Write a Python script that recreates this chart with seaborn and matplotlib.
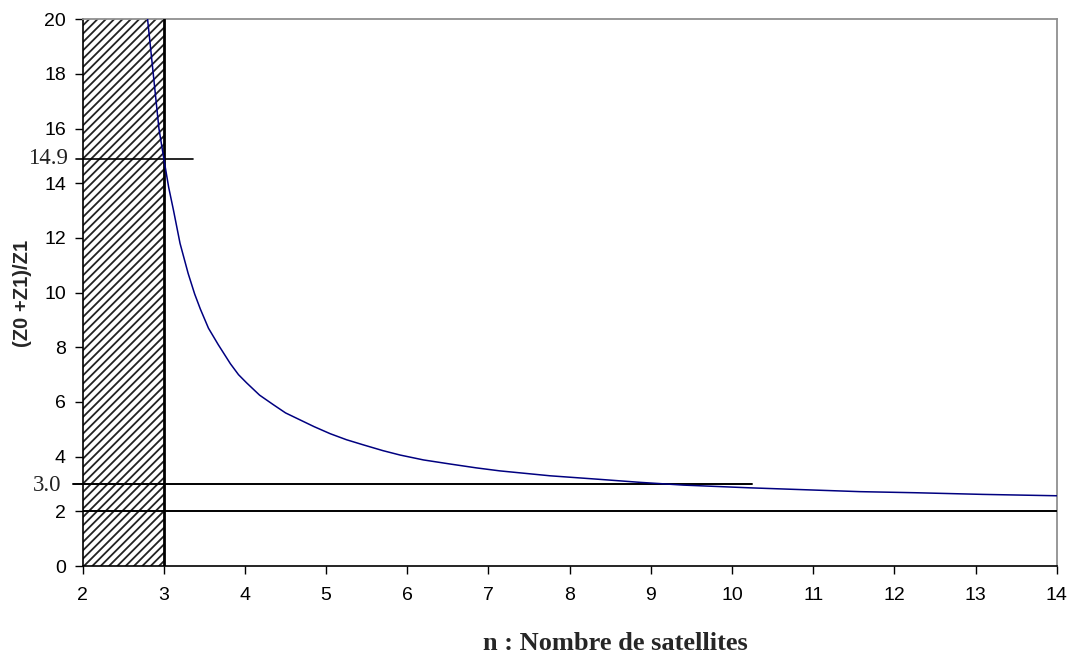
import matplotlib
matplotlib.use("Agg")
import matplotlib.pyplot as plt
import seaborn as sns
import pandas as pd

# ---- data ----
n_values = [2.80, 2.87, 2.94, 3.00, 3.06, 3.12, 3.20, 3.30, 3.38, 3.45, 3.55, 3.67,
            3.82, 3.92, 4.02, 4.18, 4.35, 4.50, 4.64, 4.85, 5.05, 5.25, 5.46, 5.70,
            5.91, 6.20, 6.53, 6.85, 7.14, 7.76, 8.37, 8.87, 9.40, 10.22, 11.58,
            12.27, 13.09, 14.00]
ratio_values = [20.0, 18.0, 16.0, 14.9, 13.85, 13.0, 11.8, 10.7, 9.95, 9.4, 8.7, 8.1,
                7.4, 7.0, 6.7, 6.25, 5.9, 5.6, 5.4, 5.1, 4.84, 4.62, 4.43, 4.22,
                4.06, 3.88, 3.73, 3.59, 3.48, 3.30, 3.17, 3.06, 2.96, 2.86, 2.72,
                2.68, 2.62, 2.57]
x_ticks = [2, 3, 4, 5, 6, 7, 8, 9, 10, 11, 12, 13, 14]
y_ticks = [0, 2, 4, 6, 8, 10, 12, 14, 16, 18, 20]
forbidden_zone = [2, 3]          # hatched region of n
level_high = 14.9               # value at n = 3
level_mid = 3.0                 # value reached near n = 9
level_asym = 2.0                # asymptote
level_high_span = [1.92, 3.36]
level_mid_span = [1.885, 10.25]
level_asym_span = [2, 14]
x_label = "n : Nombre de satellites"
y_label = "(Z0 +Z1)/Z1"

df = pd.DataFrame({"n": n_values, "ratio": ratio_values})

sns.set_style("white")
plt.rcParams["font.family"] = ["Liberation Sans", "DejaVu Sans"]
plt.rcParams["hatch.linewidth"] = 1.3

fig = plt.figure(figsize=(10.72, 6.6), dpi=100)
ax = fig.add_axes([0.0771, 0.1424, 0.9086, 0.8284])

# hatched zone
ax.fill_between(forbidden_zone, [0, 0], [20, 20], facecolor="white",
                edgecolor="#222222", hatch="////", linewidth=0, zorder=1)
ax.axvline(forbidden_zone[1], color="black", lw=2.0, zorder=3)

# curve
sns.lineplot(data=df, x="n", y="ratio", ax=ax, color="#000080", lw=1.1,
             zorder=4, sort=False)

# horizontal reference lines
ax.plot(level_high_span, [level_high] * 2, color="black", lw=1.2, clip_on=False, zorder=3)
ax.plot(level_mid_span, [level_mid] * 2, color="black", lw=1.4, clip_on=False, zorder=3)
ax.plot(level_asym_span, [level_asym] * 2, color="black", lw=1.4, zorder=3)

ax.text(1.82, level_high, f"{level_high:.1f}", ha="right", va="center",
        family="Liberation Serif", fontsize=16.5, color="#222222")
ax.text(1.733, level_mid - 0.07, f"{level_mid:.1f}", ha="right", va="center",
        family="Liberation Serif", fontsize=16.5, color="#222222")

ax.set_xlim(2, 14)
ax.set_ylim(0, 20)
ax.set_xticks(x_ticks)
ax.set_yticks(y_ticks)
ax.set_xlabel("")
ax.set_ylabel("")
ax.tick_params(axis="both", which="major", direction="out", length=6, width=1,
               color="black", labelsize=14, labelcolor="black", bottom=True, left=True)
ax.tick_params(axis="x", pad=9)
ax.tick_params(axis="y", pad=6)

for side in ["left", "bottom"]:
    ax.spines[side].set_color("black")
    ax.spines[side].set_linewidth(1.2)
for side in ["top", "right"]:
    ax.spines[side].set_color("#909090")
    ax.spines[side].set_linewidth(1.3)
    ax.spines[side].set_visible(True)

fig.text(615.5 / 1072, 1 - 643 / 660, x_label, ha="center", va="center",
         family="Liberation Serif", fontweight="bold", fontsize=19)
fig.text(23 / 1072, 1 - 293 / 660, y_label, ha="center", va="center", rotation=90,
         family="Liberation Sans", fontweight="bold", fontsize=14.5)

fig.savefig("out.png", dpi=100, facecolor="white")
